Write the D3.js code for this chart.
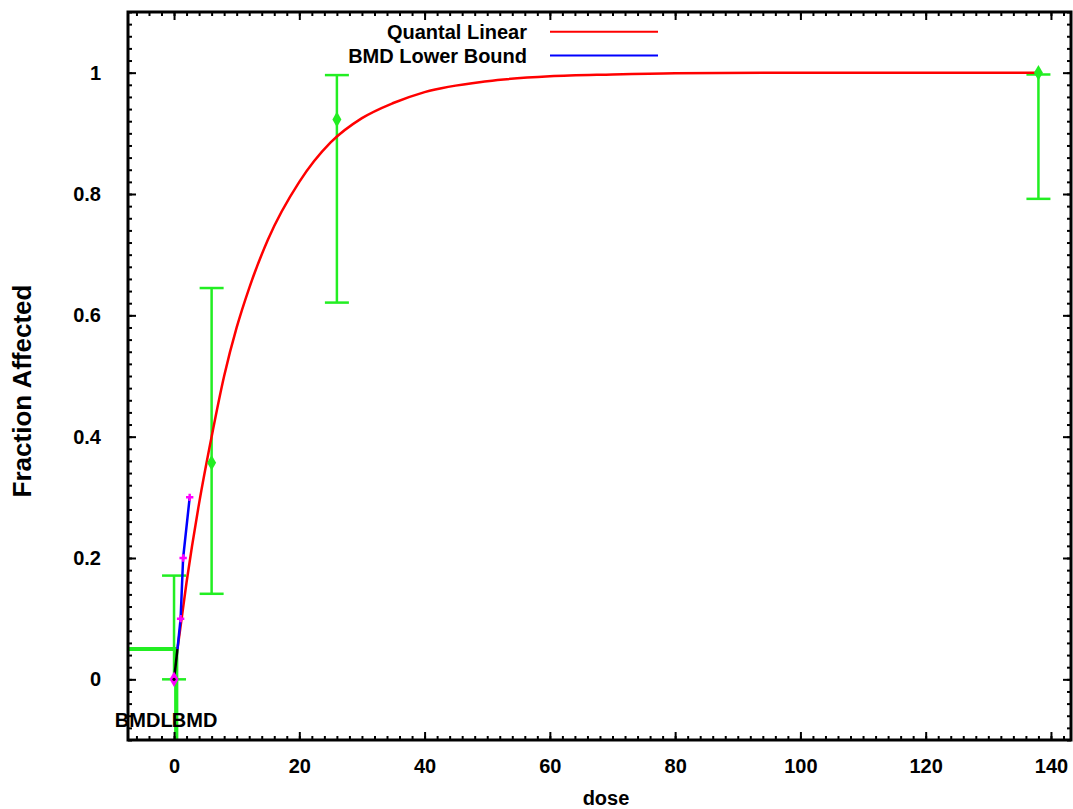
<!DOCTYPE html>
<html>
<head>
<meta charset="utf-8">
<script src="https://cdn.jsdelivr.net/npm/d3@7"></script>
<style>
  body { margin: 0; background: #fff; }
  svg { display: block; }
  text { font-family: "Liberation Sans", Arial, Helvetica, sans-serif; font-weight: bold; fill: #000; }
</style>
</head>
<body>
<svg id="chart" width="1073" height="809"></svg>
<script>
// Observed dose groups: fraction affected with confidence limits
const doses     = [0, 6, 26, 138];
const fractions = [0, 0.357, 0.923, 1.0];
const lowerCI   = [0, 0.141, 0.621, 0.792];
const upperCI   = [0.171, 0.645, 0.996, 0.997];

// Fitted quantal linear curve (dose, fraction)
const fitDose = [0.55, 2, 4, 6, 8, 10, 12, 15, 20, 25, 30, 35, 40, 50, 60, 70, 80, 100, 120, 138];
const fitFrac = [0.05, 0.16, 0.29, 0.40, 0.50, 0.58, 0.645, 0.725, 0.82, 0.885, 0.925, 0.95, 0.968, 0.986, 0.994, 0.997, 0.999, 1.0, 1.0, 1.0];

// Segment of the fit below the benchmark response
const lowSegDose = [0, 0.55];
const lowSegFrac = [0, 0.05];

// BMD lower bound curve
const lowerBoundDose = [0.55, 1.05, 1.45, 2.5];
const lowerBoundFrac = [0.05, 0.10, 0.20, 0.30];

// Benchmark values
const bmr  = 0.05;
const bmd  = 0.45;
const bmdl = 0.25;

const xTickValues = [0, 20, 40, 60, 80, 100, 120, 140];
const xTickLabels = ["0", "20", "40", "60", "80", "100", "120", "140"];
const yTickValues = [0, 0.2, 0.4, 0.6, 0.8, 1];
const yTickLabels = ["0", "0.2", "0.4", "0.6", "0.8", "1"];
const legendLabels = ["Quantal Linear", "BMD Lower Bound"];

const colors = { fit: "#ff0000", bound: "#0000ff", data: "#22ee22", marker: "#ff00ff" };

const svg = d3.select("#chart");
const plot = { left: 128, top: 12, right: 1071, bottom: 740 };

const x = d3.scaleLinear().domain([-7.35, 143.2]).range([plot.left, plot.right]);
const y = d3.scaleLinear().domain([-0.1, 1.1]).range([plot.bottom, plot.top]);

svg.append("defs").append("clipPath").attr("id", "plot-clip")
  .append("rect")
  .attr("x", plot.left).attr("y", plot.top)
  .attr("width", plot.right - plot.left).attr("height", plot.bottom - plot.top);

const content = svg.append("g").attr("clip-path", "url(#plot-clip)");

// Benchmark dose guide lines
content.append("line")
  .attr("x1", x(x.domain()[0])).attr("x2", x(bmd))
  .attr("y1", y(bmr)).attr("y2", y(bmr))
  .attr("stroke", colors.data).attr("stroke-width", 4);
[bmdl, bmd].forEach(v => {
  content.append("line")
    .attr("x1", x(v)).attr("x2", x(v))
    .attr("y1", y(bmr)).attr("y2", y(y.domain()[0]))
    .attr("stroke", colors.data).attr("stroke-width", 3);
});

// Error bars
const capHalf = 12;
doses.forEach((d, i) => {
  const g = content.append("g").attr("stroke", colors.data).attr("stroke-width", 2.5);
  g.append("line").attr("x1", x(d)).attr("x2", x(d)).attr("y1", y(lowerCI[i])).attr("y2", y(upperCI[i]));
  g.append("line").attr("x1", x(d) - capHalf).attr("x2", x(d) + capHalf).attr("y1", y(lowerCI[i])).attr("y2", y(lowerCI[i]));
  g.append("line").attr("x1", x(d) - capHalf).attr("x2", x(d) + capHalf).attr("y1", y(upperCI[i])).attr("y2", y(upperCI[i]));
});

// Fitted curve
const line = d3.line().x(p => x(p[0])).y(p => y(p[1])).curve(d3.curveMonotoneX);
content.append("path")
  .datum(fitDose.map((d, i) => [d, fitFrac[i]]))
  .attr("d", line)
  .attr("fill", "none").attr("stroke", colors.fit).attr("stroke-width", 2.5);

content.append("path")
  .datum(lowSegDose.map((d, i) => [d, lowSegFrac[i]]))
  .attr("d", d3.line().x(p => x(p[0])).y(p => y(p[1])))
  .attr("fill", "none").attr("stroke", "#000").attr("stroke-width", 2.5);

// Lower bound curve
content.append("path")
  .datum(lowerBoundDose.map((d, i) => [d, lowerBoundFrac[i]]))
  .attr("d", d3.line().x(p => x(p[0])).y(p => y(p[1])))
  .attr("fill", "none").attr("stroke", colors.bound).attr("stroke-width", 2.5);

const plus = d3.symbol().type(d3.symbolCross).size(30);
lowerBoundDose.slice(1).forEach((d, i) => {
  content.append("path").attr("d", plus)
    .attr("transform", `translate(${x(d)},${y(lowerBoundFrac[i + 1])})`)
    .attr("fill", colors.marker);
});

// Observed points
doses.forEach((d, i) => {
  content.append("path")
    .attr("d", d3.symbol().type(d3.symbolDiamond).size(70))
    .attr("transform", `translate(${x(d)},${y(fractions[i])})`)
    .attr("fill", i === 0 ? colors.marker : colors.data);
});
content.append("circle")
  .attr("cx", x(doses[0])).attr("cy", y(fractions[0])).attr("r", 1.6).attr("fill", "#000");

// Tick marks on all four sides, pointing inward
const xMinor = d3.range(-6, 143, 2);
const yMinor = d3.range(-0.1, 1.1001, 0.02);
const axes = svg.append("g").attr("class", "axes");

function tickAxis(axisFn, values, size, transform, fmt) {
  const a = axisFn.tickValues(values).tickSize(-size);
  if (fmt) a.tickFormat(fmt); else a.tickFormat("");
  const g = axes.append("g").attr("transform", transform).call(a);
  g.select(".domain").remove();
  g.selectAll(".tick line").attr("stroke", "#000").attr("stroke-width", 2);
  return g;
}

tickAxis(d3.axisBottom(x), xMinor, 4, `translate(0,${plot.bottom})`);
tickAxis(d3.axisTop(x), xMinor, 4, `translate(0,${plot.top})`);
tickAxis(d3.axisLeft(y), yMinor, 4, `translate(${plot.left},0)`);
tickAxis(d3.axisRight(y), yMinor, 4, `translate(${plot.right},0)`);

const xMajor = tickAxis(d3.axisBottom(x).tickPadding(19), xTickValues, 8,
  `translate(0,${plot.bottom})`, (d, i) => xTickLabels[i]);
tickAxis(d3.axisTop(x), xTickValues, 8, `translate(0,${plot.top})`);
const yMajor = tickAxis(d3.axisLeft(y).tickPadding(27), yTickValues, 8,
  `translate(${plot.left},0)`, (d, i) => yTickLabels[i]);
tickAxis(d3.axisRight(y), yTickValues, 8, `translate(${plot.right},0)`);

[xMajor, yMajor].forEach(g => g.selectAll(".tick text")
  .attr("fill", "#000").style("font-size", "20px")
  .style("font-family", "'Liberation Sans', Arial, sans-serif").style("font-weight", "bold"));

// Plot frame
svg.append("rect")
  .attr("x", plot.left).attr("y", plot.top)
  .attr("width", plot.right - plot.left).attr("height", plot.bottom - plot.top)
  .attr("fill", "none").attr("stroke", "#000").attr("stroke-width", 3);

// BMDL / BMD labels
svg.append("text").attr("x", x(bmdl) - 3).attr("y", 727)
  .attr("text-anchor", "end").style("font-size", "20px").text("BMDL");
svg.append("text").attr("x", x(bmd) - 5).attr("y", 727)
  .attr("text-anchor", "start").style("font-size", "20px").text("BMD");

// Axis titles
svg.append("text").attr("x", 606).attr("y", 805)
  .attr("text-anchor", "middle").style("font-size", "20px").text("dose");
svg.append("text")
  .attr("transform", "translate(31,391) rotate(-90)")
  .attr("text-anchor", "middle").style("font-size", "26px").text("Fraction Affected");

// Legend
const legend = svg.append("g");
const legendColors = [colors.fit, colors.bound];
const legendY = [31.7, 55.5];
legendLabels.forEach((label, i) => {
  legend.append("text").attr("x", 527).attr("y", legendY[i] + 7)
    .attr("text-anchor", "end").style("font-size", "20px").text(label);
  legend.append("line")
    .attr("x1", 550).attr("x2", 658).attr("y1", legendY[i]).attr("y2", legendY[i])
    .attr("stroke", legendColors[i]).attr("stroke-width", 2);
});
</script>
</body>
</html>
